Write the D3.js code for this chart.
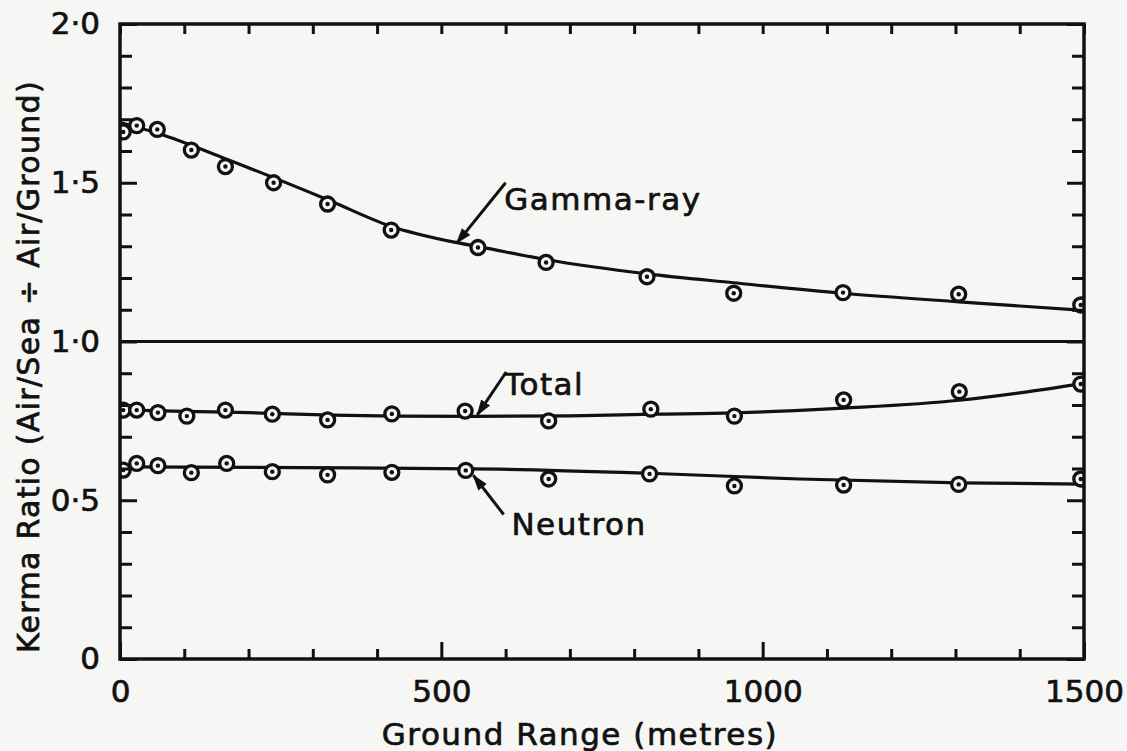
<!DOCTYPE html>
<html>
<head>
<meta charset="utf-8">
<script src="https://cdn.jsdelivr.net/npm/d3@7"></script>
<style>
  html, body { margin: 0; padding: 0; background: #f6f6f4; }
  svg { display: block; }
  text { font-family: "DejaVu Sans", sans-serif; fill: #111; stroke: #111; stroke-width: 0.7px; }
</style>
</head>
<body>
<svg id="viz" width="1127" height="751"></svg>
<script>
// data (ground range in metres, kerma ratio)
const gammaX = [5, 26, 58, 111, 164, 239, 323, 422, 557, 663, 820, 955, 1125, 1305, 1495];
const gammaY = [1.66, 1.68, 1.668, 1.603, 1.551, 1.50, 1.433, 1.351, 1.296, 1.249, 1.204, 1.152, 1.154, 1.149, 1.115];
const totalX = [5, 26, 59, 104, 164, 237, 323, 423, 537, 667, 826, 956, 1126, 1306, 1495];
const totalY = [0.784, 0.784, 0.776, 0.765, 0.784, 0.771, 0.753, 0.772, 0.781, 0.750, 0.787, 0.765, 0.816, 0.842, 0.866];
const neutronX = [5, 26, 59, 111, 166, 237, 323, 423, 538, 667, 824, 956, 1126, 1305, 1495];
const neutronY = [0.595, 0.616, 0.609, 0.587, 0.616, 0.590, 0.580, 0.588, 0.594, 0.567, 0.583, 0.545, 0.548, 0.550, 0.567];

// fitted curves (hand-drawn in the original)
const gammaFitX = [0, 60, 165, 325, 420, 520, 560, 660, 820, 955, 1125, 1305, 1500];
const gammaFitY = [1.69, 1.655, 1.575, 1.445, 1.364, 1.313, 1.298, 1.259, 1.213, 1.185, 1.152, 1.125, 1.098];
const totalFitX = [0, 100, 200, 330, 430, 550, 700, 830, 955, 1050, 1126, 1306, 1400, 1500];
const totalFitY = [0.785, 0.78, 0.776, 0.768, 0.765, 0.764, 0.766, 0.771, 0.775, 0.782, 0.79, 0.815, 0.838, 0.868];
const neutronFitX = [0, 280, 590, 824, 1057, 1306, 1500];
const neutronFitY = [0.605, 0.603, 0.598, 0.585, 0.567, 0.555, 0.551];

const xMajor = [0, 500, 1000, 1500];
const yMajor = [0, 0.5, 1.0, 1.5, 2.0];
const refLine = 1.0;

// label text, anchor and arrow (from -> to) in data units
const labels = [
  { text: "Gamma-ray", x: 598, y: 1.414, from: [600, 1.50], to: [524, 1.31] },
  { text: "Total", x: 598, y: 0.831, from: [601, 0.904], to: [556, 0.769] },
  { text: "Neutron", x: 609, y: 0.391, from: [597, 0.455], to: [550, 0.578] }
];

const svg = d3.select("#viz");
const pLeft = 120, pRight = 1084, pTop = 24, pBottom = 659;

const x = d3.scaleLinear().domain([0, 1500]).range([pLeft, pRight]);
const y = d3.scaleLinear().domain([0, 2]).range([pBottom, pTop]);

const fmt = d => d === 0 ? "0" : d3.format(".1f")(d).replace(".", "\u00b7");

const defs = svg.append("defs");
defs.append("clipPath").attr("id", "plot")
  .append("rect")
  .attr("x", pLeft).attr("y", pTop)
  .attr("width", pRight - pLeft).attr("height", pBottom - pTop);

// 1.0 reference line
svg.append("line")
  .attr("x1", pLeft).attr("x2", pRight)
  .attr("y1", y(refLine)).attr("y2", y(refLine))
  .attr("stroke", "#111").attr("stroke-width", 3);

// curves
const line = d3.line().curve(d3.curveMonotoneX).x(d => x(d[0])).y(d => y(d[1]));
const curves = [
  d3.zip(gammaFitX, gammaFitY),
  d3.zip(totalFitX, totalFitY),
  d3.zip(neutronFitX, neutronFitY)
];
svg.append("g").attr("clip-path", "url(#plot)")
  .selectAll("path").data(curves).enter().append("path")
  .attr("d", line)
  .attr("fill", "none")
  .attr("stroke", "#111")
  .attr("stroke-width", 3.2)
  .attr("stroke-linejoin", "round");

// data points: open circle with a dot
const pts = [].concat(
  d3.zip(gammaX, gammaY),
  d3.zip(totalX, totalY),
  d3.zip(neutronX, neutronY)
);
const pg = svg.append("g").attr("clip-path", "url(#plot)")
  .selectAll("g").data(pts).enter().append("g")
  .attr("transform", d => `translate(${x(d[0])},${y(d[1])})`);
pg.append("circle").attr("r", 7)
  .attr("fill", "#f6f6f4").attr("stroke", "#111").attr("stroke-width", 3.3);
pg.append("circle").attr("r", 2.2).attr("fill", "#111");

// axes: minor ticks every 100 m / 0.1, major on labelled values, all inward
function addAxis(axis, tr) {
  const g = svg.append("g").attr("transform", tr).call(axis);
  g.select(".domain").remove();
  g.selectAll(".tick line").attr("stroke", "#111").attr("stroke-width", 3);
  g.selectAll("text").style("font-size", "31px").attr("fill", "#111");
  return g;
}
const xMinor = d3.range(0, 1501, 100).filter(v => !xMajor.includes(v));
const yMinor = d3.range(0, 21).map(v => v / 10).filter(v => !yMajor.includes(v));

addAxis(d3.axisBottom(x).tickValues(xMinor).tickSize(-10).tickFormat(""), `translate(0,${pBottom})`);
addAxis(d3.axisBottom(x).tickValues(xMajor).tickSize(-17).tickPadding(21).tickFormat(d3.format("d")), `translate(0,${pBottom})`);
addAxis(d3.axisTop(x).tickValues(d3.range(0, 1501, 100)).tickSize(-10).tickFormat(""), `translate(0,${pTop})`);
addAxis(d3.axisLeft(y).tickValues(yMinor).tickSize(-12).tickFormat(""), `translate(${pLeft},0)`);
addAxis(d3.axisLeft(y).tickValues(yMajor).tickSize(-17).tickPadding(20).tickFormat(fmt), `translate(${pLeft},0)`);
addAxis(d3.axisRight(y).tickValues(yMinor).tickSize(-12).tickFormat(""), `translate(${pRight},0)`);
addAxis(d3.axisRight(y).tickValues(yMajor).tickSize(-17).tickFormat(""), `translate(${pRight},0)`);

// frame
svg.append("rect")
  .attr("x", pLeft).attr("y", pTop)
  .attr("width", pRight - pLeft).attr("height", pBottom - pTop)
  .attr("fill", "none").attr("stroke", "#111").attr("stroke-width", 3.5);

// axis titles
svg.append("text")
  .attr("x", 580).attr("y", 745)
  .attr("text-anchor", "middle")
  .style("font-size", "31px").style("letter-spacing", "1.5px")
  .text("Ground Range (metres)");

svg.append("text")
  .attr("transform", `translate(39,${(pTop + pBottom) / 2 + 25}) rotate(-90)`)
  .attr("text-anchor", "middle")
  .style("font-size", "30px").style("letter-spacing", "1.3px")
  .text("Kerma Ratio (Air/Sea \u00f7 Air/Ground)");

// curve labels with arrows
defs.append("marker")
  .attr("id", "head").attr("viewBox", "0 0 12 10")
  .attr("refX", 11).attr("refY", 5)
  .attr("markerWidth", 5.5).attr("markerHeight", 4.5)
  .attr("orient", "auto")
  .append("path").attr("d", "M0,1 L12,5 L0,9 Z").attr("fill", "#111");

const lab = svg.append("g").selectAll("g").data(labels).enter().append("g");
lab.append("line")
  .attr("x1", d => x(d.from[0])).attr("y1", d => y(d.from[1]))
  .attr("x2", d => x(d.to[0])).attr("y2", d => y(d.to[1]))
  .attr("stroke", "#111").attr("stroke-width", 3)
  .attr("marker-end", "url(#head)");
lab.append("text")
  .attr("x", d => x(d.x)).attr("y", d => y(d.y))
  .style("font-size", "31px").style("letter-spacing", "1.5px")
  .text(d => d.text);
</script>
</body>
</html>
